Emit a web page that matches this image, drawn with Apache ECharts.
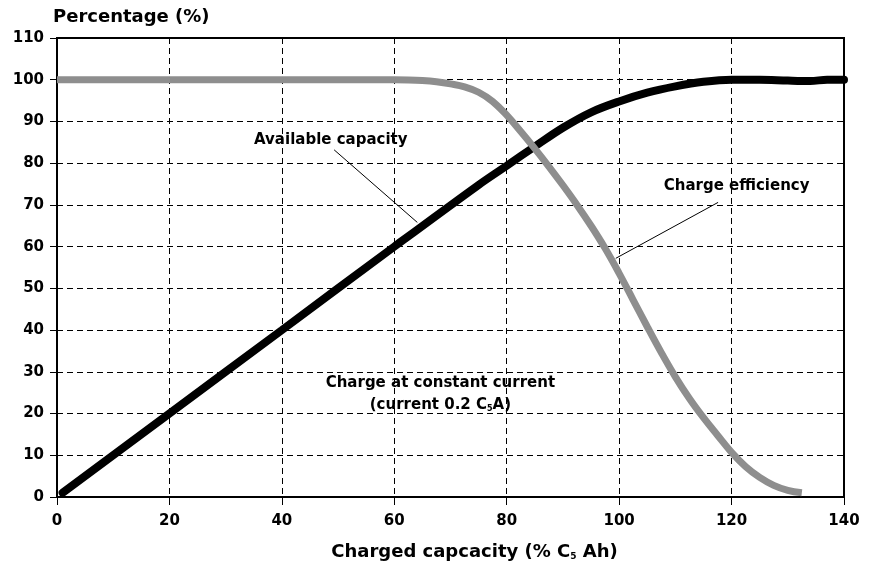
<!DOCTYPE html>
<html>
<head>
<meta charset="utf-8">
<script src="https://cdn.jsdelivr.net/npm/echarts@6/dist/echarts.min.js"></script>
<style>html,body{margin:0;padding:0;background:#fff}#c{width:872px;height:566px}</style>
</head>
<body>
<div id="c"></div>
<script>
// Charged capacity (% C5 Ah) vs percentage
const efficiencyData = [[0,100],[20,100],[40,100],[57.5,100],[60,100],[62.5,99.95],[65,99.8],[67.5,99.5],[70,99.0],[72.5,98.3],[75,97.0],[77.5,94.8],[80,91.5],[82.5,87.6],[85,83.5],[87.5,79.2],[90,74.7],[92.5,70.0],[95,65.0],[97.5,59.6],[100,53.6],[102.5,47.2],[105,40.8],[107.5,34.6],[110,28.8],[112.5,23.6],[115,19.0],[117.5,14.8],[120,10.7],[122.5,7.3],[125,4.7],[127.5,2.8],[130,1.6],[132.5,1.0]];
const capacityData = [[1,1],[20,20],[40,40],[60,60],[75,74.8],[80,79.4],[85,84],[90,88.5],[95,92.2],[100,94.8],[105,96.9],[110,98.4],[115,99.5],[120,100],[125,100],[130,99.8],[134,99.7],[137,100],[140,100]];
const xTicks = [0,20,40,60,80,100,120,140];
const yTicks = [0,10,20,30,40,50,60,70,80,90,100,110];
const yTitle = 'Percentage (%)';
const xTitle = 'Charged capcacity (% C{s|5} Ah)';
const labelCapacity = 'Available capacity';
const labelEfficiency = 'Charge efficiency';
const noteLine1 = 'Charge at constant current';
const noteLine2 = '(current 0.2 C{s|5}A)';

const FONT = 'DejaVu Sans';
const chart = echarts.init(document.getElementById('c'), null, {renderer:'canvas'});
const option = {
  animation: false,
  backgroundColor: '#fff',
  grid: {left:57, right:28, top:38, bottom:68, show:true, borderColor:'#000', borderWidth:2, backgroundColor:'transparent'},
  xAxis: {
    type:'value', min:xTicks[0], max:xTicks[xTicks.length-1], interval:20,
    name: xTitle, nameLocation:'middle', nameGap:46,
    nameTextStyle:{fontFamily:FONT, fontWeight:'bold', fontSize:18, color:'#000', padding:[0,0,0,48],
      rich:{s:{fontFamily:FONT, fontWeight:'bold', fontSize:9, color:'#000', verticalAlign:'bottom', padding:[9,0,0,0]}}},
    axisLine:{show:true, lineStyle:{color:'#000', width:2}},
    axisTick:{show:true, length:8, lineStyle:{color:'#000', width:1}},
    axisLabel:{fontFamily:FONT, fontWeight:'bold', fontSize:15, color:'#000', margin:17},
    splitLine:{show:true, lineStyle:{color:'#000', width:1, type:[6,4]}}
  },
  yAxis: {
    type:'value', min:yTicks[0], max:yTicks[yTicks.length-1], interval:10,
    name: yTitle, nameLocation:'end', nameGap:12,
    nameTextStyle:{fontFamily:FONT, fontWeight:'bold', fontSize:18, color:'#000', align:'left', padding:[0,0,0,-4]},
    axisLine:{show:true, lineStyle:{color:'#000', width:2}},
    axisTick:{show:true, length:7, lineStyle:{color:'#000', width:1}},
    axisLabel:{fontFamily:FONT, fontWeight:'bold', fontSize:15, color:'#000', margin:13},
    splitLine:{show:true, lineStyle:{color:'#000', width:1, type:[6,4]}}
  },
  series: [
    {type:'line', name:labelCapacity, data:capacityData, showSymbol:false, smooth:0.35,
     lineStyle:{color:'#000', width:8, cap:'round'}, z:3},
    {type:'line', name:labelEfficiency, data:efficiencyData, showSymbol:false, smooth:0.4,
     lineStyle:{color:'#8e8e8e', width:7, cap:'butt'}, z:4}
  ]
};
chart.setOption(option);

// annotation anchors in data coordinates
const anno = {
  capText:[48.7,85.6], capFrom:[49.3,83.2], capTo:[64.1,65.8],
  effText:[120.9,74.6], effFrom:[117.6,70.6], effTo:[99.4,57.2],
  note1:[68.2,27.4], note2:[68.2,22.0]
};
const px = p => chart.convertToPixel({gridIndex:0}, p);
const txtStyle = (t, p) => ({type:'text', x:px(p)[0], y:px(p)[1], z:100,
  style:{text:t, fill:'#000', font:'bold 15px "'+FONT+'"', align:'center', verticalAlign:'middle',
   rich:{s:{fontFamily:FONT, fontWeight:'bold', fontSize:8, fill:'#000', verticalAlign:'bottom', padding:[7,0,0,0]}}}});
const seg = (a,b) => {const p1=px(a), p2=px(b); return {type:'line', z:100, shape:{x1:p1[0],y1:p1[1],x2:p2[0],y2:p2[1]}, style:{stroke:'#000', lineWidth:1}};};
chart.setOption({graphic:[
  txtStyle(labelCapacity, anno.capText), seg(anno.capFrom, anno.capTo),
  txtStyle(labelEfficiency, anno.effText), seg(anno.effFrom, anno.effTo),
  txtStyle(noteLine1, anno.note1), txtStyle(noteLine2, anno.note2)
]});
</script>
</body>
</html>
